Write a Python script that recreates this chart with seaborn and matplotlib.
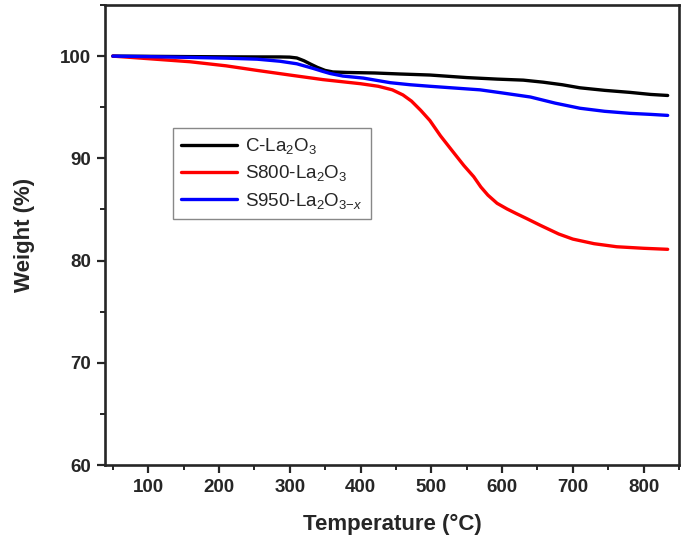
import numpy as np
import pandas as pd
import matplotlib
matplotlib.use("Agg")
import matplotlib.pyplot as plt
from matplotlib.ticker import MultipleLocator
import seaborn as sns

# TGA curves (temperature in C, weight in %)
temp_c = [50, 100, 160, 210, 254, 286, 300, 310, 320, 330, 339, 350, 361, 381, 420, 456,
          498, 550, 593, 630, 658, 685, 710, 745, 781, 810, 834]
weight_c = [100.0, 99.98, 99.95, 99.93, 99.92, 99.92, 99.9, 99.82, 99.55, 99.2, 98.9, 98.6, 98.45, 98.4, 98.35, 98.25,
            98.15, 97.9, 97.75, 97.65, 97.45, 97.2, 96.9, 96.65, 96.45, 96.25, 96.15]

temp_s800 = [50, 100, 159, 210, 254, 300, 347, 400, 425, 445, 460, 472, 485, 498, 513, 530, 546,
             560, 570, 580, 593, 607, 620, 635, 654, 680, 700, 730, 762, 800, 834]
weight_s800 = [100.0, 99.75, 99.45, 99.05, 98.6, 98.15, 97.7, 97.3, 97.05, 96.7, 96.2, 95.6, 94.7, 93.7, 92.2, 90.7, 89.3,
               88.2, 87.2, 86.4, 85.6, 85.05, 84.6, 84.1, 83.45, 82.6, 82.1, 81.65, 81.35, 81.2, 81.1]

temp_s950 = [50, 100, 159, 210, 254, 286, 310, 333, 347, 357, 375, 404, 442, 470, 498,
             569, 600, 640, 675, 710, 745, 781, 810, 834]
weight_s950 = [100.0, 99.95, 99.87, 99.8, 99.7, 99.5, 99.25, 98.8, 98.5, 98.3, 98.05, 97.85, 97.4, 97.2, 97.05,
               96.7, 96.4, 96.0, 95.4, 94.9, 94.6, 94.4, 94.3, 94.2]

labels = ["C-La$_2$O$_3$", "S800-La$_2$O$_3$", "S950-La$_2$O$_{3\\mathrm{-}\\mathit{x}}$"]
colors = ["black", "#ff0000", "#0000ff"]

df = pd.concat([
    pd.DataFrame({"Temperature": temp_c, "Weight": weight_c, "Sample": labels[0]}),
    pd.DataFrame({"Temperature": temp_s800, "Weight": weight_s800, "Sample": labels[1]}),
    pd.DataFrame({"Temperature": temp_s950, "Weight": weight_s950, "Sample": labels[2]}),
])

sns.set_style("ticks")
plt.rcParams["font.family"] = ["Liberation Sans", "DejaVu Sans"]
plt.rcParams["mathtext.fontset"] = "custom"
plt.rcParams["mathtext.rm"] = "Liberation Sans"
plt.rcParams["mathtext.it"] = "Liberation Sans:italic"
plt.rcParams["mathtext.bf"] = "Liberation Sans:bold"

fig = plt.figure(figsize=(6.85, 5.52), dpi=100)
ax = fig.add_axes([105 / 685, 1 - 465 / 552, 574 / 685, 460 / 552])

sns.lineplot(data=df, x="Temperature", y="Weight", hue="Sample", hue_order=labels,
             palette=colors, linewidth=2.4, sort=False, estimator=None, ax=ax)

ax.set_xlim(39, 850)
ax.set_ylim(60, 105)
ax.xaxis.set_major_locator(MultipleLocator(100))
ax.xaxis.set_minor_locator(MultipleLocator(50))
ax.yaxis.set_major_locator(MultipleLocator(10))
ax.yaxis.set_minor_locator(MultipleLocator(5))
ax.set_xticks(range(100, 801, 100))
ax.set_yticks(range(60, 101, 10))

for sp in ax.spines.values():
    sp.set_linewidth(1.9)
    sp.set_visible(True)
ax.tick_params(which="major", direction="out", length=6, width=1.6, labelsize=13.5, pad=4)
ax.tick_params(which="minor", direction="out", length=3.5, width=1.4)
for lab in ax.get_xticklabels() + ax.get_yticklabels():
    lab.set_fontweight("bold")

ax.set_xlabel("Temperature (°C)", fontsize=16, fontweight="bold", labelpad=13)
ax.set_ylabel("Weight (%)", fontsize=16, fontweight="bold", labelpad=18)

leg = ax.legend(loc="upper left", bbox_to_anchor=(0.118, 0.733), fontsize=13.5,
                frameon=True, fancybox=False, edgecolor="#888888", framealpha=1,
                handlelength=3.0, handletextpad=0.4, borderpad=0.45, labelspacing=0.38,
                borderaxespad=0)
leg.get_frame().set_linewidth(1.0)
for h in leg.get_lines():
    h.set_linewidth(2.4)

fig.savefig("out.png", dpi=100)
